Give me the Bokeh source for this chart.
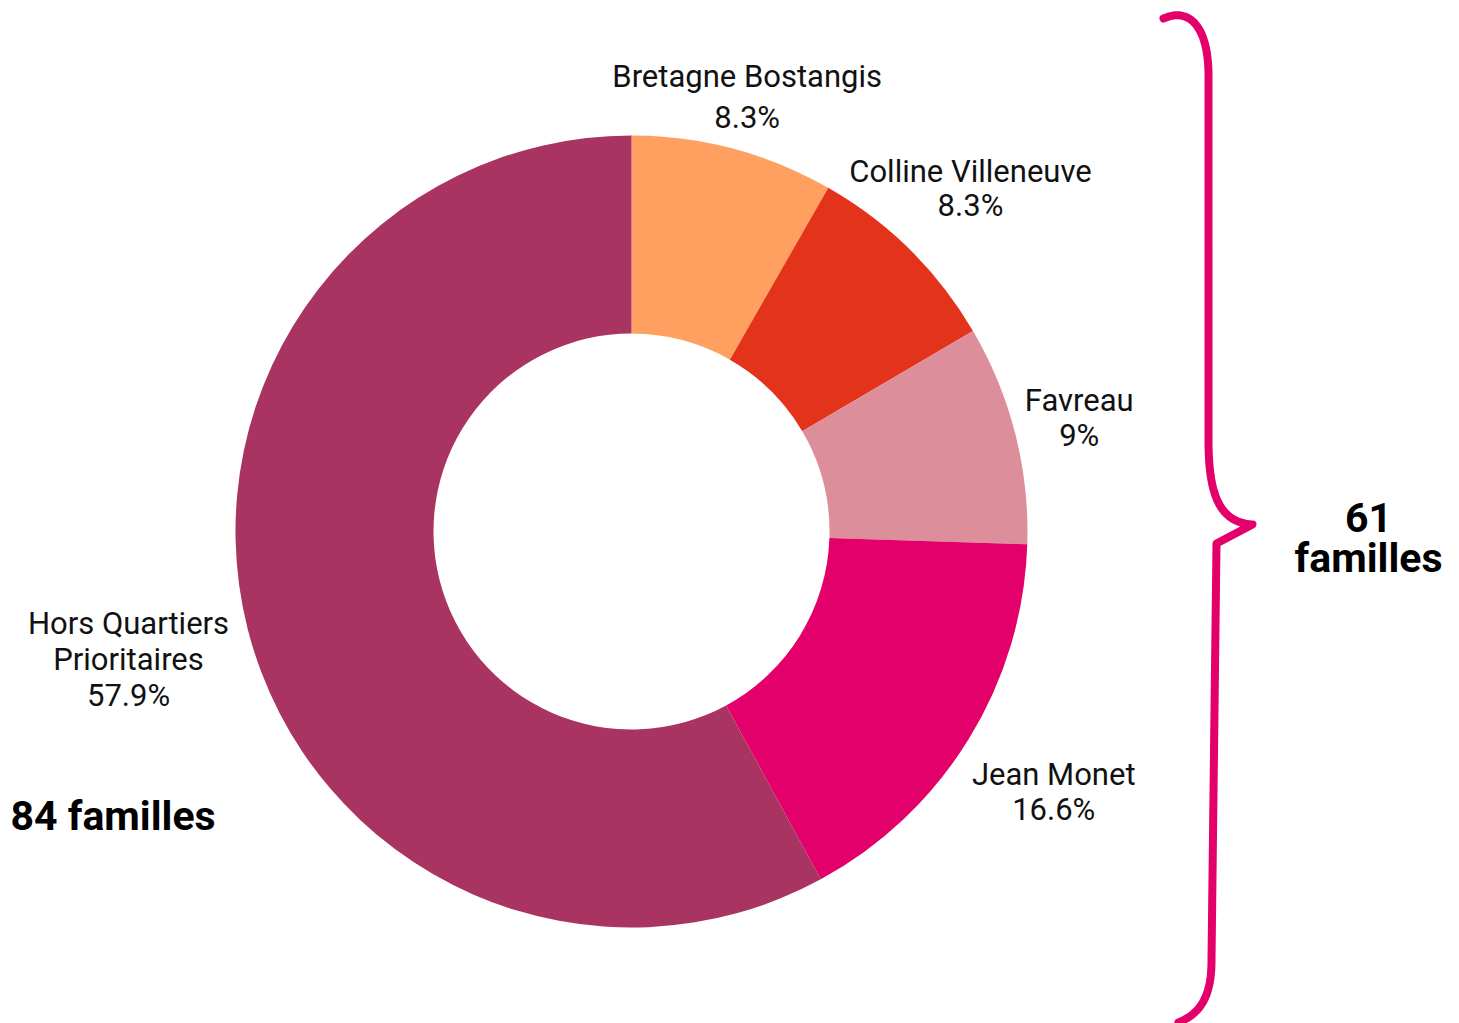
import numpy as np
from bokeh.plotting import figure
from bokeh.models import Range1d, ColumnDataSource
from bokeh.core.properties import value
from bokeh.embed import file_html
from bokeh.resources import INLINE

# ---- data ----
names = ["Bretagne Bostangis", "Colline Villeneuve", "Favreau", "Jean Monet", "Hors Quartiers\nPrioritaires"]
families = [12, 12, 13, 24, 84]
pct_labels = ["8.3%", "8.3%", "9%", "16.6%", "57.9%"]
colors = ["#FF9F60", "#E3341B", "#DC8E9A", "#E3006B", "#A93361"]
qpv_total_label = ["61", "familles"]
hors_total_label = "84 familles"

# ---- layout ----
W, H = 1459, 1023
PAGE_H = 1023
cx, cy = 631, PAGE_H - 531
r_out, r_in = 396, 198
label_radius = [450, 482, 462, 496, 519]
line_gap = [41, 34, 35, 35, 36]
FONT = "Roboto"

p = figure(width=W, height=H, output_backend="svg", toolbar_location=None,
           x_range=Range1d(0, W), y_range=Range1d(PAGE_H - H, PAGE_H),
           min_border=0)
p.axis.visible = False
p.grid.visible = False
p.outline_line_color = None
p.background_fill_color = "white"

vals = np.array(families, dtype=float)
frac = vals / vals.sum()
cum = np.concatenate([[0], np.cumsum(frac)])
start = np.pi / 2 - cum[1:] * 2 * np.pi
end = np.pi / 2 - cum[:-1] * 2 * np.pi
src = ColumnDataSource(dict(start=start, end=end, color=colors))
p.annular_wedge(x=cx, y=cy, inner_radius=r_in, outer_radius=r_out,
                start_angle="start", end_angle="end", color="color",
                line_color=None, source=src)

# labels at mid angle
mid = (cum[:-1] + cum[1:]) / 2
for i, name in enumerate(names):
    ang = np.pi / 2 - mid[i] * 2 * np.pi
    lx = cx + label_radius[i] * np.cos(ang)
    ly = cy + label_radius[i] * np.sin(ang)
    lines = name.split("\n") + [pct_labels[i]]
    n = len(lines)
    for j, t in enumerate(lines):
        off = (j - (n - 1) / 2) * line_gap[i]
        p.text(x=[lx], y=[ly], y_offset=off, text=[t], text_align="center",
               text_baseline="middle", text_font=value(FONT),
               text_font_size="31px", text_color="#111111")

# totals
p.text(x=[10], y=[PAGE_H - 815], text=[hors_total_label], text_align="left",
       text_baseline="middle", text_font=value(FONT), text_font_style="bold",
       text_font_size="41px", text_color="black")
p.text(x=[1368, 1368], y=[PAGE_H - 517, PAGE_H - 557], text=qpv_total_label,
       text_align="center", text_baseline="middle", text_font=value(FONT),
       text_font_style="bold", text_font_size="41px", text_color="black")

# brace
def cubic(p0, c1, c2, p1, n=40):
    t = np.linspace(0, 1, n)[:, None]
    P = ((1 - t) ** 3) * np.array(p0) + 3 * ((1 - t) ** 2) * t * np.array(c1) \
        + 3 * (1 - t) * t ** 2 * np.array(c2) + t ** 3 * np.array(p1)
    return P

segs = [
    cubic((1163, 18), (1190, 6), (1208, 28), (1208, 75)),
    np.array([(1208, 75), (1208, 440)]),
    cubic((1208, 440), (1208, 500), (1222, 522), (1252, 524)),
    np.array([(1252, 524), (1216, 543)]),
    np.array([(1216, 543), (1211, 960)]),
    cubic((1211, 960), (1211, 1000), (1197, 1014), (1178, 1022)),
]
pts = np.vstack(segs)
p.line(x=pts[:, 0], y=PAGE_H - pts[:, 1], line_color="#E3006B", line_width=8,
       line_cap="round", line_join="round")

open("out.html", "w").write(file_html(p, INLINE))
